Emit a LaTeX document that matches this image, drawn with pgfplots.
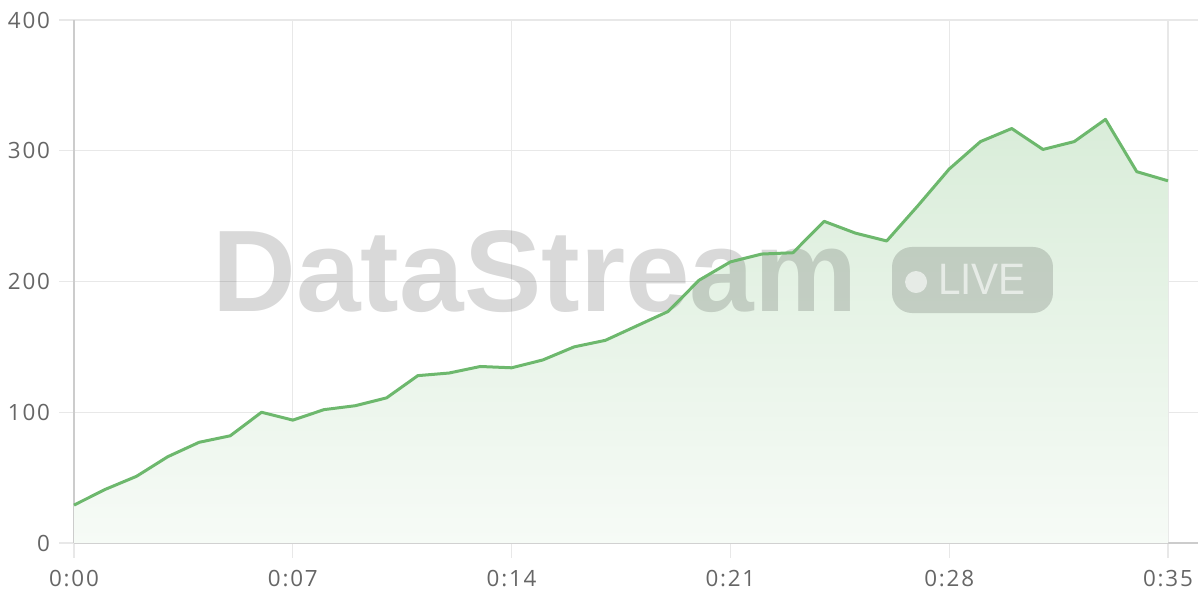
\documentclass[border=0pt]{standalone}
\usepackage{pgfplots}
\pgfplotsset{compat=1.18}
\usepackage{fontspec}
\setmainfont{Open Sans}[LetterSpace=8]
\newfontfamily\wmfont{Liberation Sans}
\definecolor{linegreen}{HTML}{6DB86D}
\definecolor{gridgray}{HTML}{E8E8E8}
\definecolor{axisgray}{HTML}{CCCCCC}
\definecolor{labelgray}{HTML}{666666}
\pgfplotstableread{
x y
0 29
1 41
2 51
3 66
4 77
5 82
6 100
7 94
8 102
9 105
10 111
11 128
12 130
13 135
14 134
15 140
16 150
17 155
18 166
19 177
20 201
21 215
22 221
23 222
24 246
25 237
26 231
27 258
28 286
29 307
30 317
31 301
32 307
33 324
34 284
35 277
}\datatable
\begin{document}
\begin{tikzpicture}
\useasboundingbox (-37pt,-28.5pt) rectangle (563pt,271.5pt);
\begin{axis}[
  at={(0,0)}, anchor=south west,
  scale only axis,
  width=562pt, height=261.5pt,
  xmin=0, xmax=35.96, ymin=0, ymax=400,
  axis x line*=bottom, axis y line*=left,
  axis line style={draw=axisgray, line width=0.6pt, -},
  xtick={0,7,14,21,28,35},
  xticklabels={0:00,0:07,0:14,0:21,0:28,0:35},
  ytick={0,100,200,300,400},
  grid=major,
  major grid style={draw=gridgray, line width=0.6pt},
  tick align=outside,
  major tick length=7.5pt,
  tick style={draw=gridgray, line width=0.6pt},
  tick label style={font=\fontsize{11.2}{13}\selectfont, text=labelgray},
  /pgf/number format/assume math mode=true,
  xticklabel style={yshift=-2.5pt},
  yticklabel style={xshift=-1pt},
  clip=false,
]
\addplot[draw=none, top color=linegreen!26!white, bottom color=linegreen!6!white] table[x=x,y=y]{\datatable} \closedcycle;
\node[anchor=base, text=black, opacity=0.15, font=\wmfont\bfseries\fontsize{58}{60}\selectfont] at (axis cs:14.75,176.7) {DataStream};
\fill[black, opacity=0.15, rounded corners=10pt] (axis cs:26.17,175.9) rectangle (axis cs:31.32,226.4);
\fill[white, opacity=0.6] (axis cs:26.94,199.6) circle[radius=5.5pt];
\node[anchor=base, text=white, opacity=0.6, font=\wmfont\fontsize{22}{24}\selectfont, xscale=0.92] at (axis cs:29.05,189.7) {LIVE};
\addplot[draw=linegreen, line width=1.5pt, line join=round] table[x=x,y=y]{\datatable};
\end{axis}
\end{tikzpicture}
\end{document}
